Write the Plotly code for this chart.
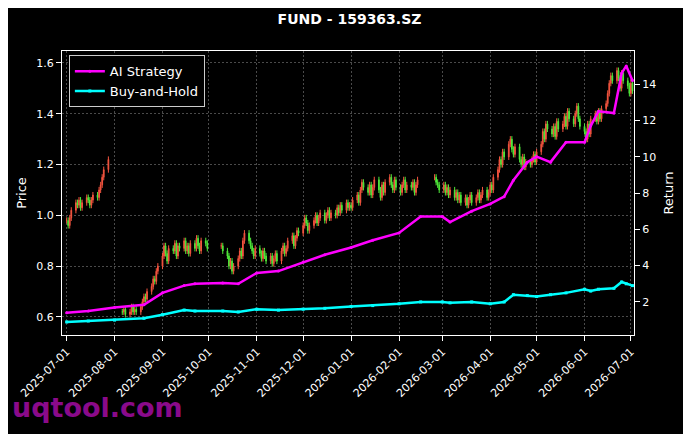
import plotly.graph_objects as go
import pandas as pd

# ---- price data (daily closes per trading segment, gaps = holidays / missing) ----
seg_ranges = [("2025-07-01", "2025-07-28"), ("2025-08-06", "2025-09-30"),
              ("2025-10-09", "2026-02-13"), ("2026-02-24", "2026-07-02")]
closes_1 = [0.98, 0.96, 0.99, 1.02, 1.05, 1.04, 1.06, 1.03, 1.05, 1.07, 1.06, 1.04, 1.06, 1.08,
            1.07, 1.10, 1.12, 1.15, 1.18, 1.22]
closes_2 = [0.62, 0.63, 0.61, 0.62, 0.64, 0.62, 0.63, 0.62, 0.64, 0.66, 0.68, 0.67, 0.70,
            0.72, 0.75, 0.74, 0.78, 0.80, 0.84, 0.88, 0.85, 0.82, 0.87, 0.86, 0.89, 0.84, 0.88, 0.87,
            0.90, 0.86, 0.88, 0.85, 0.89, 0.87, 0.91, 0.88, 0.86, 0.90, 0.89, 0.87]
closes_3 = [0.88, 0.86, 0.84, 0.80, 0.82, 0.78, 0.80, 0.83, 0.86, 0.84, 0.90, 0.93, 0.90, 0.88, 0.86, 0.84, 0.87,
            0.85, 0.83, 0.86, 0.84, 0.82, 0.84, 0.81, 0.83, 0.85, 0.82, 0.86, 0.88, 0.85, 0.87, 0.90,
            0.92, 0.88, 0.91, 0.94, 0.93,
            0.96, 0.99, 0.97, 0.94, 0.96, 0.98, 1.00, 0.97, 0.99, 1.01, 0.98, 1.00, 1.02, 0.99, 1.01,
            1.00, 1.03, 1.01, 1.04, 1.02, 1.05, 1.03, 1.04,
            1.03, 1.06, 1.08, 1.05, 1.10, 1.13, 1.11, 1.09, 1.12, 1.08, 1.11, 1.14, 1.10, 1.07, 1.12,
            1.09, 1.13, 1.15, 1.12, 1.10, 1.14, 1.11,
            1.09, 1.12, 1.14, 1.10, 1.12, 1.11, 1.13, 1.09, 1.12, 1.14]
closes_4 = [1.15, 1.13, 1.12, 1.10,
            1.12, 1.09, 1.11, 1.08, 1.10, 1.07, 1.09, 1.06, 1.08, 1.05, 1.07, 1.04, 1.06, 1.08, 1.05,
            1.07, 1.09, 1.06, 1.08, 1.10, 1.07, 1.09,
            1.12, 1.10, 1.15, 1.18, 1.22, 1.20, 1.25, 1.23, 1.28, 1.30, 1.26, 1.24, 1.27, 1.22, 1.20,
            1.23, 1.19, 1.21, 1.20, 1.22, 1.24, 1.21,
            1.25, 1.28, 1.33, 1.30, 1.36, 1.34, 1.32, 1.35, 1.31, 1.37, 1.34, 1.36, 1.39, 1.35, 1.41,
            1.38, 1.36, 1.40, 1.43, 1.38, 1.35,
            1.33, 1.30, 1.36, 1.32, 1.38, 1.40, 1.37, 1.41, 1.38, 1.42, 1.44, 1.48, 1.52, 1.55, 1.53,
            1.57, 1.54, 1.50, 1.56, 1.53, 1.51, 1.48,
            1.52, 1.49]
seg_closes = [closes_1, closes_2, closes_3, closes_4]
wick = 0.012

# ---- return curves ----
ret_dates = ["2025-07-01", "2025-07-15", "2025-08-01", "2025-08-20", "2025-09-01", "2025-09-15",
             "2025-09-22", "2025-10-10", "2025-10-20", "2025-11-01", "2025-11-15", "2025-12-01",
             "2025-12-15", "2026-01-01", "2026-01-15", "2026-02-01", "2026-02-15", "2026-03-01",
             "2026-03-06", "2026-03-20", "2026-04-01", "2026-04-10", "2026-04-16", "2026-04-25",
             "2026-05-01", "2026-05-10", "2026-05-20", "2026-06-01", "2026-06-05", "2026-06-10",
             "2026-06-20", "2026-06-25", "2026-06-28", "2026-07-02"]
ai_strategy = [1.4, 1.5, 1.7, 1.85, 2.5, 2.9, 3.0, 3.05, 3.0, 3.6, 3.7, 4.2, 4.6, 5.0, 5.4, 5.8,
               6.7, 6.7, 6.4, 7.0, 7.4, 7.8, 8.7, 9.7, 10.0, 9.7, 10.8, 10.8, 11.7, 12.5, 12.4,
               14.6, 15.0, 14.2]
buy_hold = [0.9, 0.95, 1.0, 1.1, 1.3, 1.55, 1.5, 1.5, 1.45, 1.6, 1.55, 1.6, 1.65, 1.75, 1.8,
            1.9, 2.0, 2.0, 1.95, 2.0, 1.9, 2.0, 2.4, 2.35, 2.3, 2.4, 2.5, 2.7, 2.6, 2.7, 2.75,
            3.1, 3.0, 2.9]

month_ticks = pd.date_range("2025-07-01", "2026-07-01", freq="MS")

dates, opens, highs, lows, closes = [], [], [], [], []
for (s, e), cl in zip(seg_ranges, seg_closes):
    d = pd.bdate_range(s, e)[:len(cl)]
    prev = cl[0]
    for day, c in zip(d, cl):
        dates.append(day)
        opens.append(prev)
        closes.append(c)
        highs.append(max(prev, c) + wick)
        lows.append(min(prev, c) - wick)
        prev = c

fig = go.Figure()
fig.add_trace(go.Candlestick(x=dates, open=opens, high=highs, low=lows, close=closes,
                             increasing=dict(line=dict(color="#f4543f", width=1), fillcolor="#f4543f"),
                             decreasing=dict(line=dict(color="#4fe83a", width=1), fillcolor="#4fe83a"),
                             whiskerwidth=0, showlegend=False, name="Price"))
fig.add_trace(go.Scatter(x=ret_dates, y=ai_strategy, yaxis="y2", name="AI Strategy",
                         mode="lines+markers", line=dict(color="#ff00ff", width=2.5),
                         marker=dict(size=3, color="#ff00ff")))
fig.add_trace(go.Scatter(x=ret_dates, y=buy_hold, yaxis="y2", name="Buy-and-Hold",
                         mode="lines+markers", line=dict(color="#00ffff", width=2.5),
                         marker=dict(size=3, color="#00ffff", symbol="square")))

grid = dict(showgrid=True, gridcolor="#4a4a4a", griddash="2px,2px", gridwidth=0.6)
# page body has an 8px margin, so the figure is drawn 8px smaller
fig.update_layout(
    width=683, height=426, paper_bgcolor="black", plot_bgcolor="black",
    font=dict(family="DejaVu Sans", color="white", size=11),
    margin=dict(l=54, r=57, t=43, b=99, autoexpand=False),
    title=dict(text="<b>FUND - 159363.SZ</b>", x=0.5, y=0.975, xanchor="center", yanchor="middle",
               font=dict(size=14)),
    xaxis=dict(range=["2025-06-28", "2026-07-03"], tickvals=month_ticks, tickformat="%Y-%m-%d",
               tickangle=-45, showline=True, linecolor="white", mirror=True, ticks="outside",
               tickcolor="white", rangeslider=dict(visible=False), **grid),
    yaxis=dict(title=dict(text="Price", standoff=6), range=[0.529, 1.647], dtick=0.2, tickformat=".1f",
               showline=True, linecolor="white", mirror=True, ticks="outside", tickcolor="white",
               zeroline=False, **grid),
    yaxis2=dict(title=dict(text="Return", standoff=8), overlaying="y", side="right", range=[0.18, 15.82],
                tickvals=[2, 4, 6, 8, 10, 12, 14], showgrid=False, ticks="outside", tickcolor="white",
                zeroline=False),
    legend=dict(x=0.012, y=0.985, xanchor="left", yanchor="top", bgcolor="black",
                bordercolor="#ccc", borderwidth=1, font=dict(size=13)),
    annotations=[dict(text="<b>uqtool.com</b>", xref="paper", yref="paper", x=-0.091, y=-0.257,
                      xanchor="left", yanchor="middle", showarrow=False,
                      font=dict(size=27, color="#8a0a8a"))],
)
fig.write_html("out.html")
